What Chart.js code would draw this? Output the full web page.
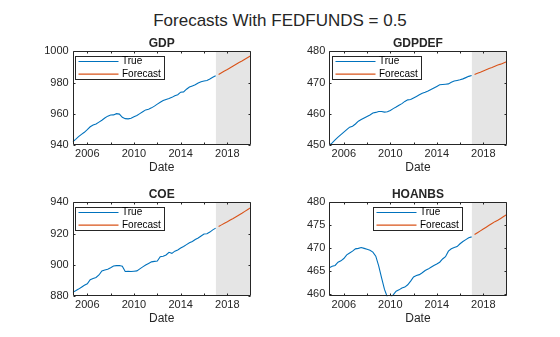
<!DOCTYPE html>
<html>
<head>
<meta charset="utf-8">
<script src="https://cdn.jsdelivr.net/npm/chart.js@4.4.0/dist/chart.umd.min.js"></script>
<style>
  body { margin: 0; background: #fff; }
  #fig { position: relative; width: 560px; height: 337px; overflow: hidden;
         font-family: "Liberation Sans", Arial, Helvetica, sans-serif; }
  #suptitle { position: absolute; left: 0; top: 11px; width: 560px; text-align: center;
              font-size: 17px; line-height: 20px; color: #262626; }
  canvas { position: absolute; }
</style>
</head>
<body>
<div id="fig">
  <div id="suptitle">Forecasts With FEDFUNDS = 0.5</div>
  <canvas id="gdp" width="280" height="150" style="left:0;top:30px"></canvas>
  <canvas id="gdpdef" width="280" height="150" style="left:280px;top:30px"></canvas>
  <canvas id="coe" width="280" height="150" style="left:0;top:181px"></canvas>
  <canvas id="hoanbs" width="280" height="150" style="left:280px;top:181px"></canvas>
</div>
<script>
// quarterly dates (decimal years)
const trueDates = [2004.75, 2005, 2005.25, 2005.5, 2005.75, 2006, 2006.25, 2006.5, 2006.75,
  2007, 2007.25, 2007.5, 2007.75, 2008, 2008.25, 2008.5, 2008.75, 2009, 2009.25, 2009.5, 2009.75,
  2010, 2010.25, 2010.5, 2010.75, 2011, 2011.25, 2011.5, 2011.75, 2012, 2012.25, 2012.5, 2012.75,
  2013, 2013.25, 2013.5, 2013.75, 2014, 2014.25, 2014.5, 2014.75, 2015, 2015.25, 2015.5, 2015.75,
  2016, 2016.25, 2016.5, 2016.75, 2017];
const forecastDates = [2017.25, 2017.5, 2017.75, 2018, 2018.25, 2018.5, 2018.75, 2019,
  2019.25, 2019.5, 2019.75, 2020];
const shadeSpan = [2017, 2020];

const xTicks = [2006, 2008, 2010, 2012, 2014, 2016, 2018];
const xTickLabels = [2006, 2010, 2014, 2018];

const gdpTrue = [942.3, 943.8, 945.5, 947.0, 948.3, 950.0, 951.8, 952.9, 953.6, 954.8,
  956.0, 957.4, 958.6, 959.3, 959.4, 960.2, 959.9, 957.9, 957.0, 956.9,
  957.3, 958.2, 959.0, 960.2, 961.4, 962.6, 963.0, 963.9, 965.0, 966.3,
  967.5, 968.6, 969.3, 969.9, 970.6, 971.6, 972.3, 973.9, 974.1, 975.8,
  977.2, 977.9, 978.6, 979.8, 980.6, 981.0, 981.4, 982.3, 983.4, 984.4];
const gdpForecast = [985.2, 986.3, 987.4, 988.4, 989.5, 990.6, 991.7, 992.8, 993.8, 994.9, 996.0, 997.1];
const gdpTicks = [940, 960, 980, 1000];

const gdpdefTrue = [450.0, 450.8, 451.7, 452.6, 453.4, 454.2, 455.0, 455.8, 456.1, 456.8,
  457.7, 458.2, 458.7, 459.2, 459.7, 460.3, 460.5, 460.8, 460.8, 460.6,
  460.7, 461.1, 461.7, 462.2, 462.8, 463.3, 464.0, 464.5, 464.6, 465.1,
  465.6, 466.1, 466.6, 466.9, 467.3, 467.8, 468.3, 468.8, 469.3, 469.4,
  469.5, 469.6, 470.1, 470.5, 470.7, 470.9, 471.2, 471.6, 472.0, 472.3];
const gdpdefForecast = [472.6, 473.0, 473.3, 473.7, 474.1, 474.5, 474.8, 475.2, 475.6, 475.9, 476.3, 476.7];
const gdpdefTicks = [450, 460, 470, 480];

const coeTrue = [882.5, 883.5, 884.6, 885.8, 887.0, 888.0, 890.6, 891.4, 892.0, 893.6,
  896.2, 896.8, 897.3, 898.2, 899.3, 899.6, 899.7, 899.2, 895.8, 895.9,
  895.8, 896.0, 896.2, 897.5, 898.8, 900.0, 901.0, 902.0, 902.3, 902.5,
  905.3, 905.6, 906.4, 908.1, 907.4, 908.8, 909.6, 910.8, 911.8, 913.0,
  914.2, 915.0, 916.3, 917.2, 918.5, 919.8, 919.9, 921.0, 922.4, 923.5];
const coeForecast = [924.6, 925.6, 926.6, 927.6, 928.7, 929.7, 930.8, 931.9, 933.0, 934.2, 935.4, 936.6];
const coeTicks = [880, 900, 920, 940];

const hoanbsTrue = [465.8, 466.1, 466.3, 467.0, 467.3, 467.8, 468.6, 469.0, 469.4, 469.9,
  470.0, 470.2, 470.0, 469.8, 469.6, 469.2, 468.3, 466.2, 463.6, 461.1,
  459.4, 459.3, 459.9, 460.7, 461.0, 461.4, 461.6, 462.1, 462.9, 463.8,
  464.1, 464.3, 464.7, 465.2, 465.5, 465.9, 466.3, 466.6, 467.0, 467.7,
  468.2, 469.4, 469.9, 470.2, 470.4, 471.0, 471.5, 471.9, 472.3, 472.5];
const hoanbsForecast = [473.0, 473.4, 473.8, 474.2, 474.6, 475.0, 475.4, 475.8, 476.1, 476.5, 476.9, 477.3];
const hoanbsTicks = [460, 465, 470, 475, 480];

const AXIS = "#262626";
const BLUE = "#0072bd";
const ORANGE = "#d95319";
const FONT = '"Liberation Sans", Arial, Helvetica, sans-serif';
const TICK = 2;

Chart.defaults.font.family = FONT;

// MATLAB-ish axes box, inward ticks and an in-axes legend
const matlabAxes = {
  id: "matlabAxes",
  afterDatasetsDraw(chart, args, opts) {
    const { ctx, chartArea: a, scales: { x, y } } = chart;
    const L = Math.round(a.left) + 0.5, R = Math.round(a.right) - 0.5;
    const T = Math.round(a.top) + 0.5, B = Math.round(a.bottom) - 0.5;
    ctx.save();
    ctx.strokeStyle = AXIS;
    ctx.lineWidth = 1;
    ctx.beginPath();
    xTicks.forEach(v => {
      const px = Math.round(x.getPixelForValue(v)) + 0.5;
      ctx.moveTo(px, B); ctx.lineTo(px, B - TICK);
      ctx.moveTo(px, T); ctx.lineTo(px, T + TICK);
    });
    y.ticks.forEach(t => {
      const py = Math.round(y.getPixelForValue(t.value)) + 0.5;
      ctx.moveTo(L, py); ctx.lineTo(L + TICK, py);
      ctx.moveTo(R, py); ctx.lineTo(R - TICK, py);
    });
    ctx.rect(L, T, R - L, B - T);
    ctx.stroke();

    // legend
    const items = chart.data.datasets.filter(d => d.label);
    ctx.font = "10px " + FONT;
    const textW = Math.max(...items.map(d => ctx.measureText(d.label).width));
    const w = Math.round(47 + textW + 4), h = 24;
    let bx = opts.where === "n" ? Math.round((a.left + a.right) / 2 - w / 2) : Math.round(a.left + 2.6);
    let by = Math.round(a.top + 4.5);
    ctx.fillStyle = "#fff";
    ctx.fillRect(bx, by, w, h);
    ctx.strokeStyle = AXIS;
    ctx.strokeRect(bx + 0.5, by + 0.5, w - 1, h - 1);
    ctx.textBaseline = "middle";
    ctx.textAlign = "left";
    items.forEach((d, i) => {
      const ry = by + 5.5 + i * 12.7;
      ctx.strokeStyle = d.borderColor;
      ctx.lineWidth = 1.2;
      ctx.beginPath();
      ctx.moveTo(bx + 3.5, ry); ctx.lineTo(bx + 43.5, ry);
      ctx.stroke();
      ctx.fillStyle = "#000";
      ctx.fillText(d.label, bx + 47, ry);
    });
    ctx.restore();
  }
};

function panel(id, name, trueVals, fcVals, yMin, yMax, yTicks, where, leftCol) {
  const pts = (dates, vals) => dates.map((d, i) => ({ x: d, y: vals[i] }));
  return new Chart(document.getElementById(id), {
    type: "line",
    data: {
      datasets: [
        { label: "True", data: pts(trueDates, trueVals), borderColor: BLUE, borderWidth: 1.1,
          pointRadius: 0, tension: 0, fill: false, order: 1, clip: 0 },
        { label: "Forecast", data: pts(forecastDates, fcVals), borderColor: ORANGE, borderWidth: 1.1,
          pointRadius: 0, tension: 0, fill: false, order: 1, clip: 0 },
        { label: "", data: [{ x: shadeSpan[0], y: yMax }, { x: shadeSpan[1], y: yMax }],
          borderWidth: 0, borderColor: "rgba(0,0,0,0)", backgroundColor: "#e5e5e5",
          pointRadius: 0, fill: "start", order: 10 }
      ]
    },
    options: {
      responsive: false,
      animation: false,
      devicePixelRatio: 1,
      layout: { padding: { left: 0, right: leftCol ? 29.3 : 53.5, top: 0, bottom: 5.5 } },
      plugins: {
        legend: { display: false },
        tooltip: { enabled: false },
        title: { display: true, text: name, color: AXIS, fullSize: false,
                 font: { size: 12, weight: "bold" }, padding: { top: 6.8, bottom: 0.1 } },
        matlabAxes: { where }
      },
      scales: {
        x: {
          type: "linear", min: 2004.75, max: 2020,
          afterBuildTicks: s => { s.ticks = xTicks.map(v => ({ value: v })); },
          afterFit: s => { s.height = 29.2; },
          grid: { display: false, drawTicks: false }, border: { display: false },
          ticks: { color: AXIS, font: { size: 11 }, padding: 2, maxRotation: 0, autoSkip: false,
                   callback: v => xTickLabels.includes(v) ? String(v) : "" },
          title: { display: true, text: "Date", color: AXIS, font: { size: 12 }, padding: 0 }
        },
        y: {
          min: yMin, max: yMax,
          afterBuildTicks: s => { s.ticks = yTicks.map(v => ({ value: v })); },
          afterFit: s => { s.width = leftCol ? 72.7 : 49.3; },
          grid: { display: false, drawTicks: false }, border: { display: false },
          ticks: { color: AXIS, font: { size: 11 }, padding: 4, callback: v => String(v) }
        }
      }
    },
    plugins: [matlabAxes]
  });
}

panel("gdp", "GDP", gdpTrue, gdpForecast, 940, 1000, gdpTicks, "nw", true);
panel("gdpdef", "GDPDEF", gdpdefTrue, gdpdefForecast, 450, 480, gdpdefTicks, "nw", false);
panel("coe", "COE", coeTrue, coeForecast, 880, 940, coeTicks, "nw", true);
panel("hoanbs", "HOANBS", hoanbsTrue, hoanbsForecast, 459.6, 480, hoanbsTicks, "n", false);
</script>
</body>
</html>
